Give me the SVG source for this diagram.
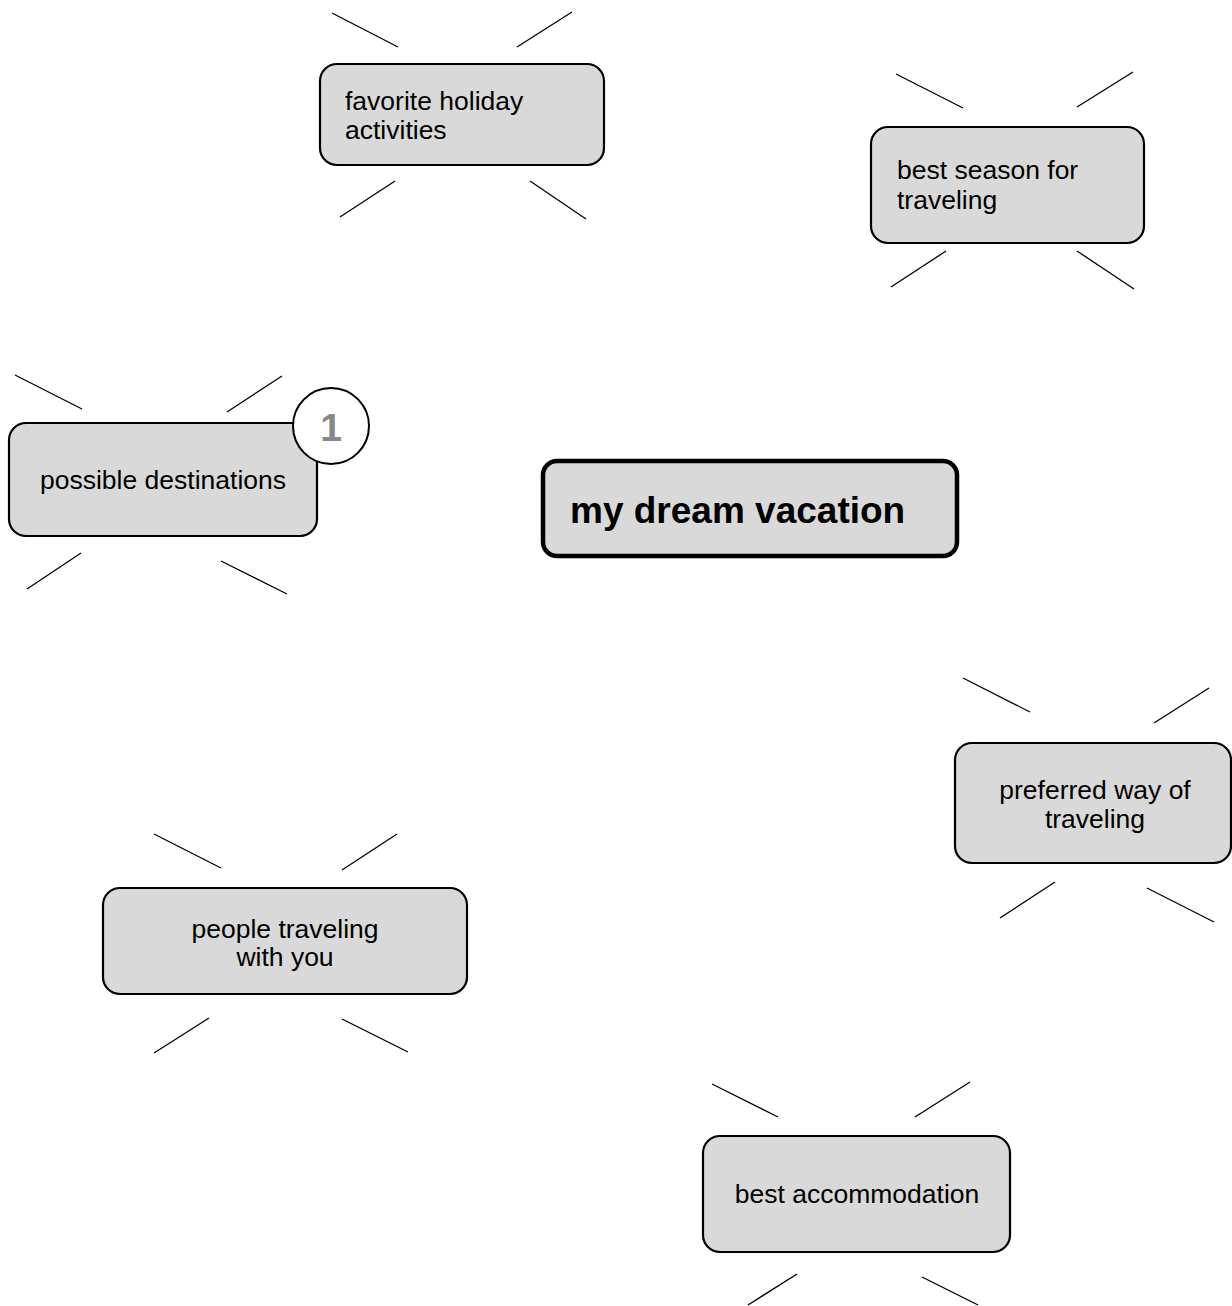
<svg xmlns="http://www.w3.org/2000/svg" width="1232" height="1306" viewBox="0 0 1232 1306">
<style>
.box{fill:#d9d9d9;stroke:#000;stroke-width:2.2}
.main{fill:#d9d9d9;stroke:#000;stroke-width:4.5}
.t{font-family:"Liberation Sans",Arial,sans-serif;font-size:26.5px;fill:#000}
.c{text-anchor:middle}
.b{font-family:"Liberation Sans",Arial,sans-serif;font-size:37px;font-weight:bold;fill:#000}
.ray{stroke:#000;stroke-width:1.3;fill:none}
.num{font-family:"Liberation Sans",Arial,sans-serif;font-size:39px;font-weight:bold;fill:#888;text-anchor:middle}
</style>
<rect width="1232" height="1306" fill="#fff"/>
<g id="connectors">
<line class="ray" x1="332" y1="13" x2="398" y2="47"/>
<line class="ray" x1="517" y1="47" x2="572" y2="12"/>
<line class="ray" x1="395" y1="181" x2="340" y2="217"/>
<line class="ray" x1="530" y1="181" x2="586" y2="219"/>
<line class="ray" x1="896" y1="74" x2="963" y2="108"/>
<line class="ray" x1="1077" y1="107" x2="1133" y2="72"/>
<line class="ray" x1="946" y1="251" x2="891" y2="287"/>
<line class="ray" x1="1077" y1="251" x2="1134" y2="289"/>
<line class="ray" x1="15" y1="375" x2="82" y2="409"/>
<line class="ray" x1="227" y1="412" x2="282" y2="376"/>
<line class="ray" x1="81" y1="553" x2="27" y2="589"/>
<line class="ray" x1="221" y1="561" x2="287" y2="594"/>
<line class="ray" x1="963" y1="678" x2="1030" y2="712"/>
<line class="ray" x1="1154" y1="723" x2="1209" y2="688"/>
<line class="ray" x1="1055" y1="882" x2="1000" y2="918"/>
<line class="ray" x1="1147" y1="888" x2="1214" y2="922"/>
<line class="ray" x1="154" y1="834" x2="221" y2="868"/>
<line class="ray" x1="342" y1="870" x2="397" y2="834"/>
<line class="ray" x1="209" y1="1018" x2="154" y2="1053"/>
<line class="ray" x1="342" y1="1019" x2="408" y2="1052"/>
<line class="ray" x1="712" y1="1084" x2="778" y2="1117"/>
<line class="ray" x1="915" y1="1117" x2="970" y2="1082"/>
<line class="ray" x1="797" y1="1274" x2="748" y2="1305"/>
<line class="ray" x1="922" y1="1277" x2="978" y2="1305"/>
</g>
<g id="node-activities">
<rect class="box" x="320" y="64" width="284" height="101" rx="17"/>
<text class="t" x="345" y="110">favorite holiday</text>
<text class="t" x="345" y="139">activities</text>
</g>
<g id="node-season">
<rect class="box" x="871" y="127" width="273" height="116" rx="17"/>
<text class="t" x="897" y="179">best season for</text>
<text class="t" x="897" y="209">traveling</text>
</g>
<g id="node-destinations">
<rect class="box" x="9" y="423" width="308" height="113" rx="17"/>
<text class="t c" x="163" y="489">possible destinations</text>
<circle cx="331" cy="426" r="38" fill="#fff" stroke="#000" stroke-width="2"/>
<text class="num" x="331" y="441">1</text>
</g>
<g id="node-main">
<rect class="main" x="543" y="461" width="414" height="95" rx="14"/>
<text class="b" x="570" y="523">my dream vacation</text>
</g>
<g id="node-way">
<rect class="box" x="955" y="743" width="276" height="120" rx="17"/>
<text class="t c" x="1095" y="799">preferred way of</text>
<text class="t c" x="1095" y="828">traveling</text>
</g>
<g id="node-people">
<rect class="box" x="103" y="888" width="364" height="106" rx="17"/>
<text class="t c" x="285" y="938">people traveling</text>
<text class="t c" x="285" y="966">with you</text>
</g>
<g id="node-accommodation">
<rect class="box" x="703" y="1136" width="307" height="116" rx="17"/>
<text class="t c" x="857" y="1203">best accommodation</text>
</g>
</svg>
